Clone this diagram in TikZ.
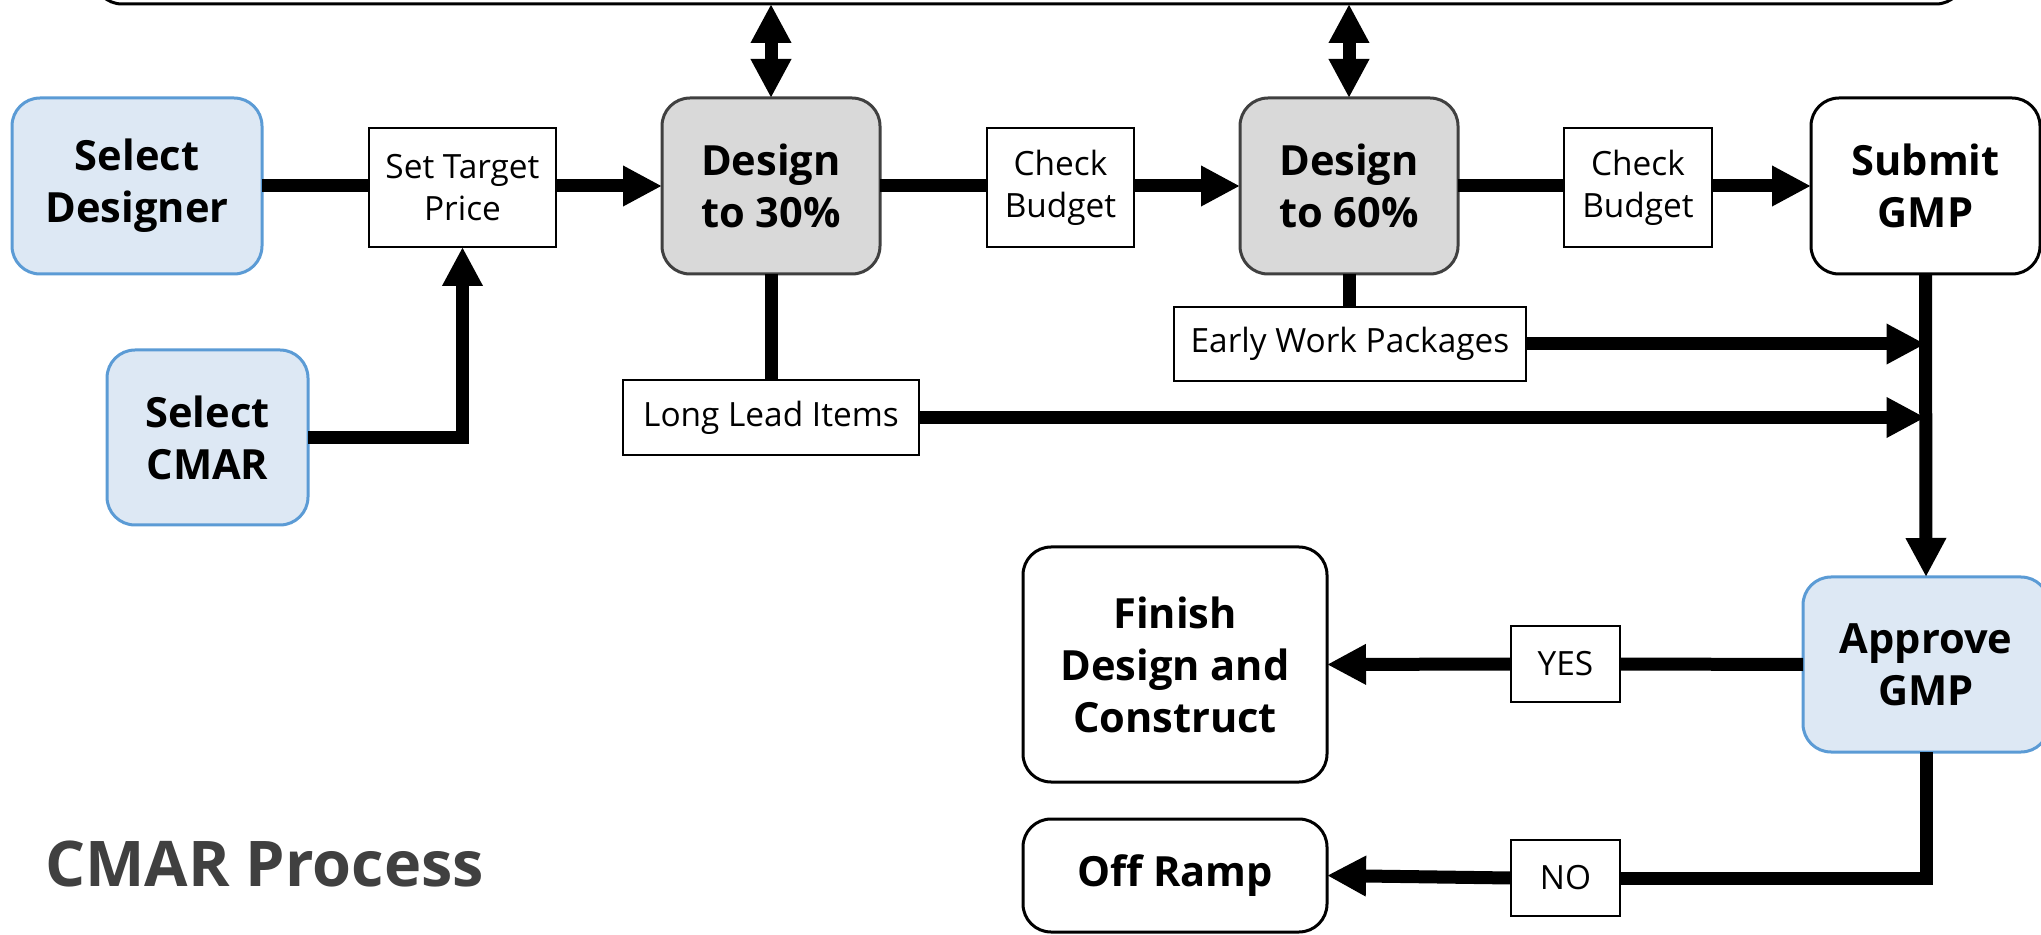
\documentclass[tikz,border=0pt]{standalone}
\usepackage{fontspec}
\setmainfont{Open Sans}
\usetikzlibrary{arrows.meta}
\definecolor{pickfill}{HTML}{DDE8F4}
\definecolor{pickline}{HTML}{5B9BD5}
\definecolor{desfill}{HTML}{D9D9D9}
\definecolor{desline}{HTML}{404040}

\begin{document}
\begin{tikzpicture}[x=0.5pt,y=0.5pt]
        \tikzstyle{every node}+=[inner sep=0pt, outer sep=0pt]
        \tikzstyle{bigbox}=[rectangle, rounded corners=14pt, draw=black, line width=1.5pt, fill=white, align=center, font=\bfseries\fontsize{20.8}{26}\selectfont]
        \tikzstyle{pickbox}=[bigbox, draw=pickline, fill=pickfill]
        \tikzstyle{desbox}=[bigbox, draw=desline, fill=desfill]
        \tikzstyle{tagbox}=[rectangle, draw=black, line width=1.3pt, fill=white, align=center, font=\fontsize{16.7}{21}\selectfont]
        \tikzstyle{link}=[line width=6.5pt]
        \tikzstyle{flow}=[link, -{Triangle[length=19.5pt,width=19pt]}]
        \tikzstyle{both}=[link, {Triangle[length=19.5pt,width=19pt]}-{Triangle[length=19.5pt,width=19pt]}]
        \path [use as bounding box, clip] (0,0) rectangle (2041,-935);
        \node [bigbox, minimum width=935pt, minimum height=120pt] (topbox) at (1029,116) {};
        \node [pickbox, minimum width=125pt, minimum height=88pt] (seldes) at (137,-186) {Select\\Designer};
        \node [tagbox, minimum width=93.5pt, minimum height=59.5pt] (target) at (462.5,-187.5) {Set Target\\Price};
        \node [desbox, minimum width=109pt, minimum height=88pt] (des30) at (771,-186) {Design\\to 30\%};
        \node [tagbox, minimum width=73.5pt, minimum height=59.5pt] (check1) at (1060.5,-187.5) {Check\\Budget};
        \node [desbox, minimum width=109pt, minimum height=88pt] (des60) at (1349,-186) {Design\\to 60\%};
        \node [tagbox, minimum width=74pt, minimum height=59.5pt] (check2) at (1638,-187.5) {Check\\Budget};
        \node [bigbox, minimum width=114.5pt, minimum height=88pt] (submit) at (1925.5,-186) {Submit\\GMP};
        \node [pickbox, minimum width=100.5pt, minimum height=87.5pt] (selcmar) at (207.5,-437.5) {Select\\CMAR};
        \node [tagbox, minimum width=148pt, minimum height=37.5pt] (longlead) at (771,-417.5) {Long Lead Items};
        \node [tagbox, minimum width=176pt, minimum height=37pt] (early) at (1350,-344) {Early Work Packages};
        \node [pickbox, minimum width=123pt, minimum height=87.5pt] (approve) at (1926,-664.5) {Approve\\GMP};
        \node [bigbox, minimum width=152pt, minimum height=117.5pt] (finish) at (1175,-664.5) {Finish\\Design and\\Construct};
        \node [tagbox, minimum width=54.5pt, minimum height=38pt] (yes) at (1565.5,-664) {YES};
        \node [bigbox, minimum width=152pt, minimum height=56.5pt] (offramp) at (1175,-875.5) {Off Ramp};
        \node [tagbox, minimum width=54.5pt, minimum height=38pt] (no) at (1565.5,-878) {NO};
        \node [anchor=base west, font=\bfseries\fontsize{31.5}{36}\selectfont, text=desline] (title) at (45,-886) {CMAR Process};
        \draw [link] (seldes.east) -- (seldes.east -| target.west);
        \draw [flow] (target.east |- des30.west) -- (des30.west);
        \draw [link] (des30.east) -- (des30.east -| check1.west);
        \draw [flow] (check1.east |- des60.west) -- (des60.west);
        \draw [link] (des60.east) -- (des60.east -| check2.west);
        \draw [flow] (check2.east |- submit.west) -- (submit.west);
        \draw [flow] (selcmar.east) -| (target.south);
        \draw [both] (des30.north) -- (des30.north |- topbox.south);
        \draw [both] (des60.north) -- (des60.north |- topbox.south);
        \draw [link] (des30.south) -- (longlead.north);
        \draw [link] (des60.south) -- (des60.south |- early.north);
        \draw [flow] (early.east) -- (early.east -| submit.south);
        \draw [flow] (longlead.east) -- (longlead.east -| submit.south);
        \draw [flow] (submit.south) -- (approve.north);
        \draw [link] (approve.west) -- (yes.east);
        \draw [flow] (yes.west) -- (finish.east);
        \draw [link] (approve.south) |- (no.east);
        \draw [flow] (no.west) -- (offramp.east);
    \end{tikzpicture}
\end{document}
